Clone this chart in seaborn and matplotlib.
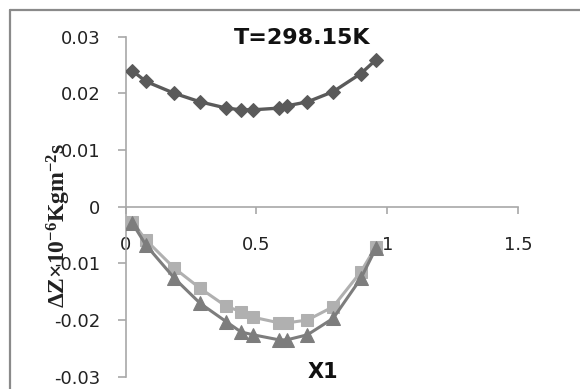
import matplotlib
matplotlib.use("Agg")
import matplotlib.pyplot as plt
import seaborn as sns
from matplotlib.lines import Line2D

# Mole fraction of component 1
x1 = [0.026, 0.078, 0.187, 0.285, 0.385, 0.441, 0.487, 0.587, 0.616, 0.695, 0.793, 0.899, 0.956]

# Deviation in acoustic impedance (x10^-6 kg m^-2 s^-1) for three systems
dz_diamond = [0.0240, 0.0221, 0.0200, 0.0185, 0.0174, 0.0171, 0.0171,
              0.0174, 0.0178, 0.0185, 0.0203, 0.0235, 0.0259]
dz_square = [-0.00265, -0.00588, -0.01087, -0.0144, -0.0176, -0.0185, -0.0195,
             -0.0205, -0.0205, -0.0200, -0.01765, -0.01147, -0.00706]
dz_triangle = [-0.0029, -0.00676, -0.01264, -0.01705, -0.0203, -0.0221, -0.0226,
               -0.0235, -0.0235, -0.0226, -0.0197, -0.01264, -0.00735]

x_ticks = [0, 0.5, 1, 1.5]
x_tick_labels = ["0", "0.5", "1", "1.5"]
y_ticks = [-0.03, -0.02, -0.01, 0, 0.01, 0.02, 0.03]
y_tick_labels = ["-0.03", "-0.02", "-0.01", "0", "0.01", "0.02", "0.03"]

sns.set_style("white")
plt.rcParams["font.family"] = ["DejaVu Sans"]
plt.rcParams["axes.unicode_minus"] = False
plt.rcParams["mathtext.fontset"] = "custom"
plt.rcParams["mathtext.rm"] = "Liberation Serif:bold"
plt.rcParams["mathtext.bf"] = "Liberation Serif:bold"
plt.rcParams["mathtext.it"] = "Liberation Serif:bold:italic"

W, H = 580, 389
fig = plt.figure(figsize=(W / 100, H / 100), dpi=100)
ax_left, ax_right, ax_top, ax_bottom = 125.5, 518.3, 36.7, 376.7
ax = fig.add_axes([ax_left / W, 1 - ax_bottom / H,
                   (ax_right - ax_left) / W, (ax_bottom - ax_top) / H])

dark = "#5a5a5a"
mid = "#7d7d7d"
light = "#b0b0b0"

sns.lineplot(x=x1, y=dz_diamond, ax=ax, color=dark, lw=2.4, marker="D",
             markersize=7.5, markeredgecolor=dark, sort=False, zorder=3)
sns.lineplot(x=x1, y=dz_square, ax=ax, color=light, lw=2.2, marker="s",
             markersize=9, markeredgecolor=light, sort=False, zorder=3)
sns.lineplot(x=x1, y=dz_triangle, ax=ax, color=mid, lw=2.2, marker="^",
             markersize=9.5, markeredgecolor=mid, sort=False, zorder=4)

ax.set_xlim(0, 1.5)
ax.set_ylim(-0.03, 0.03)
ax.set_xticks(x_ticks, x_tick_labels)
ax.set_yticks(y_ticks, y_tick_labels)

axis_color = "#a8a8a8"
for side in ("top", "right"):
    ax.spines[side].set_visible(False)
ax.spines["bottom"].set_position(("data", 0))
for side in ("left", "bottom"):
    ax.spines[side].set_color(axis_color)
    ax.spines[side].set_linewidth(1.2)

ax.tick_params(axis="y", left=True, direction="out", length=6, width=1.2,
               color=axis_color, pad=12, labelsize=13, labelcolor="#222222")
ax.tick_params(axis="x", bottom=True, direction="out", length=5, width=1.2,
               color=axis_color, pad=16, labelsize=13, labelcolor="#222222")

ax.text(0.449, 0.996, "T=298.15K", transform=ax.transAxes, ha="center",
        va="center", fontsize=16, fontweight="bold", color="#111111")

ax.set_xlabel("X1", fontsize=15, fontweight="bold", color="#111111")
ax.xaxis.label.set_va("center")
ax.xaxis.set_label_coords(0.503, 0.014)

ax.set_ylabel(r"$\mathrm{\Delta Z{\times}10^{-6}Kgm^{-2}s}$", fontsize=17,
              color="#222222")
ax.yaxis.label.set_va("center")
ax.yaxis.set_label_coords(-0.169, 0.446)

# chart-area frame
frame_color = "#8a8a8a"
fig.add_artist(Line2D([10 / W, 10 / W], [0, 1 - 10 / H], transform=fig.transFigure,
                      color=frame_color, lw=1.6))
fig.add_artist(Line2D([10 / W, 1], [1 - 10 / H, 1 - 10 / H], transform=fig.transFigure,
                      color=frame_color, lw=1.6))

fig.savefig("out.png", dpi=100)
